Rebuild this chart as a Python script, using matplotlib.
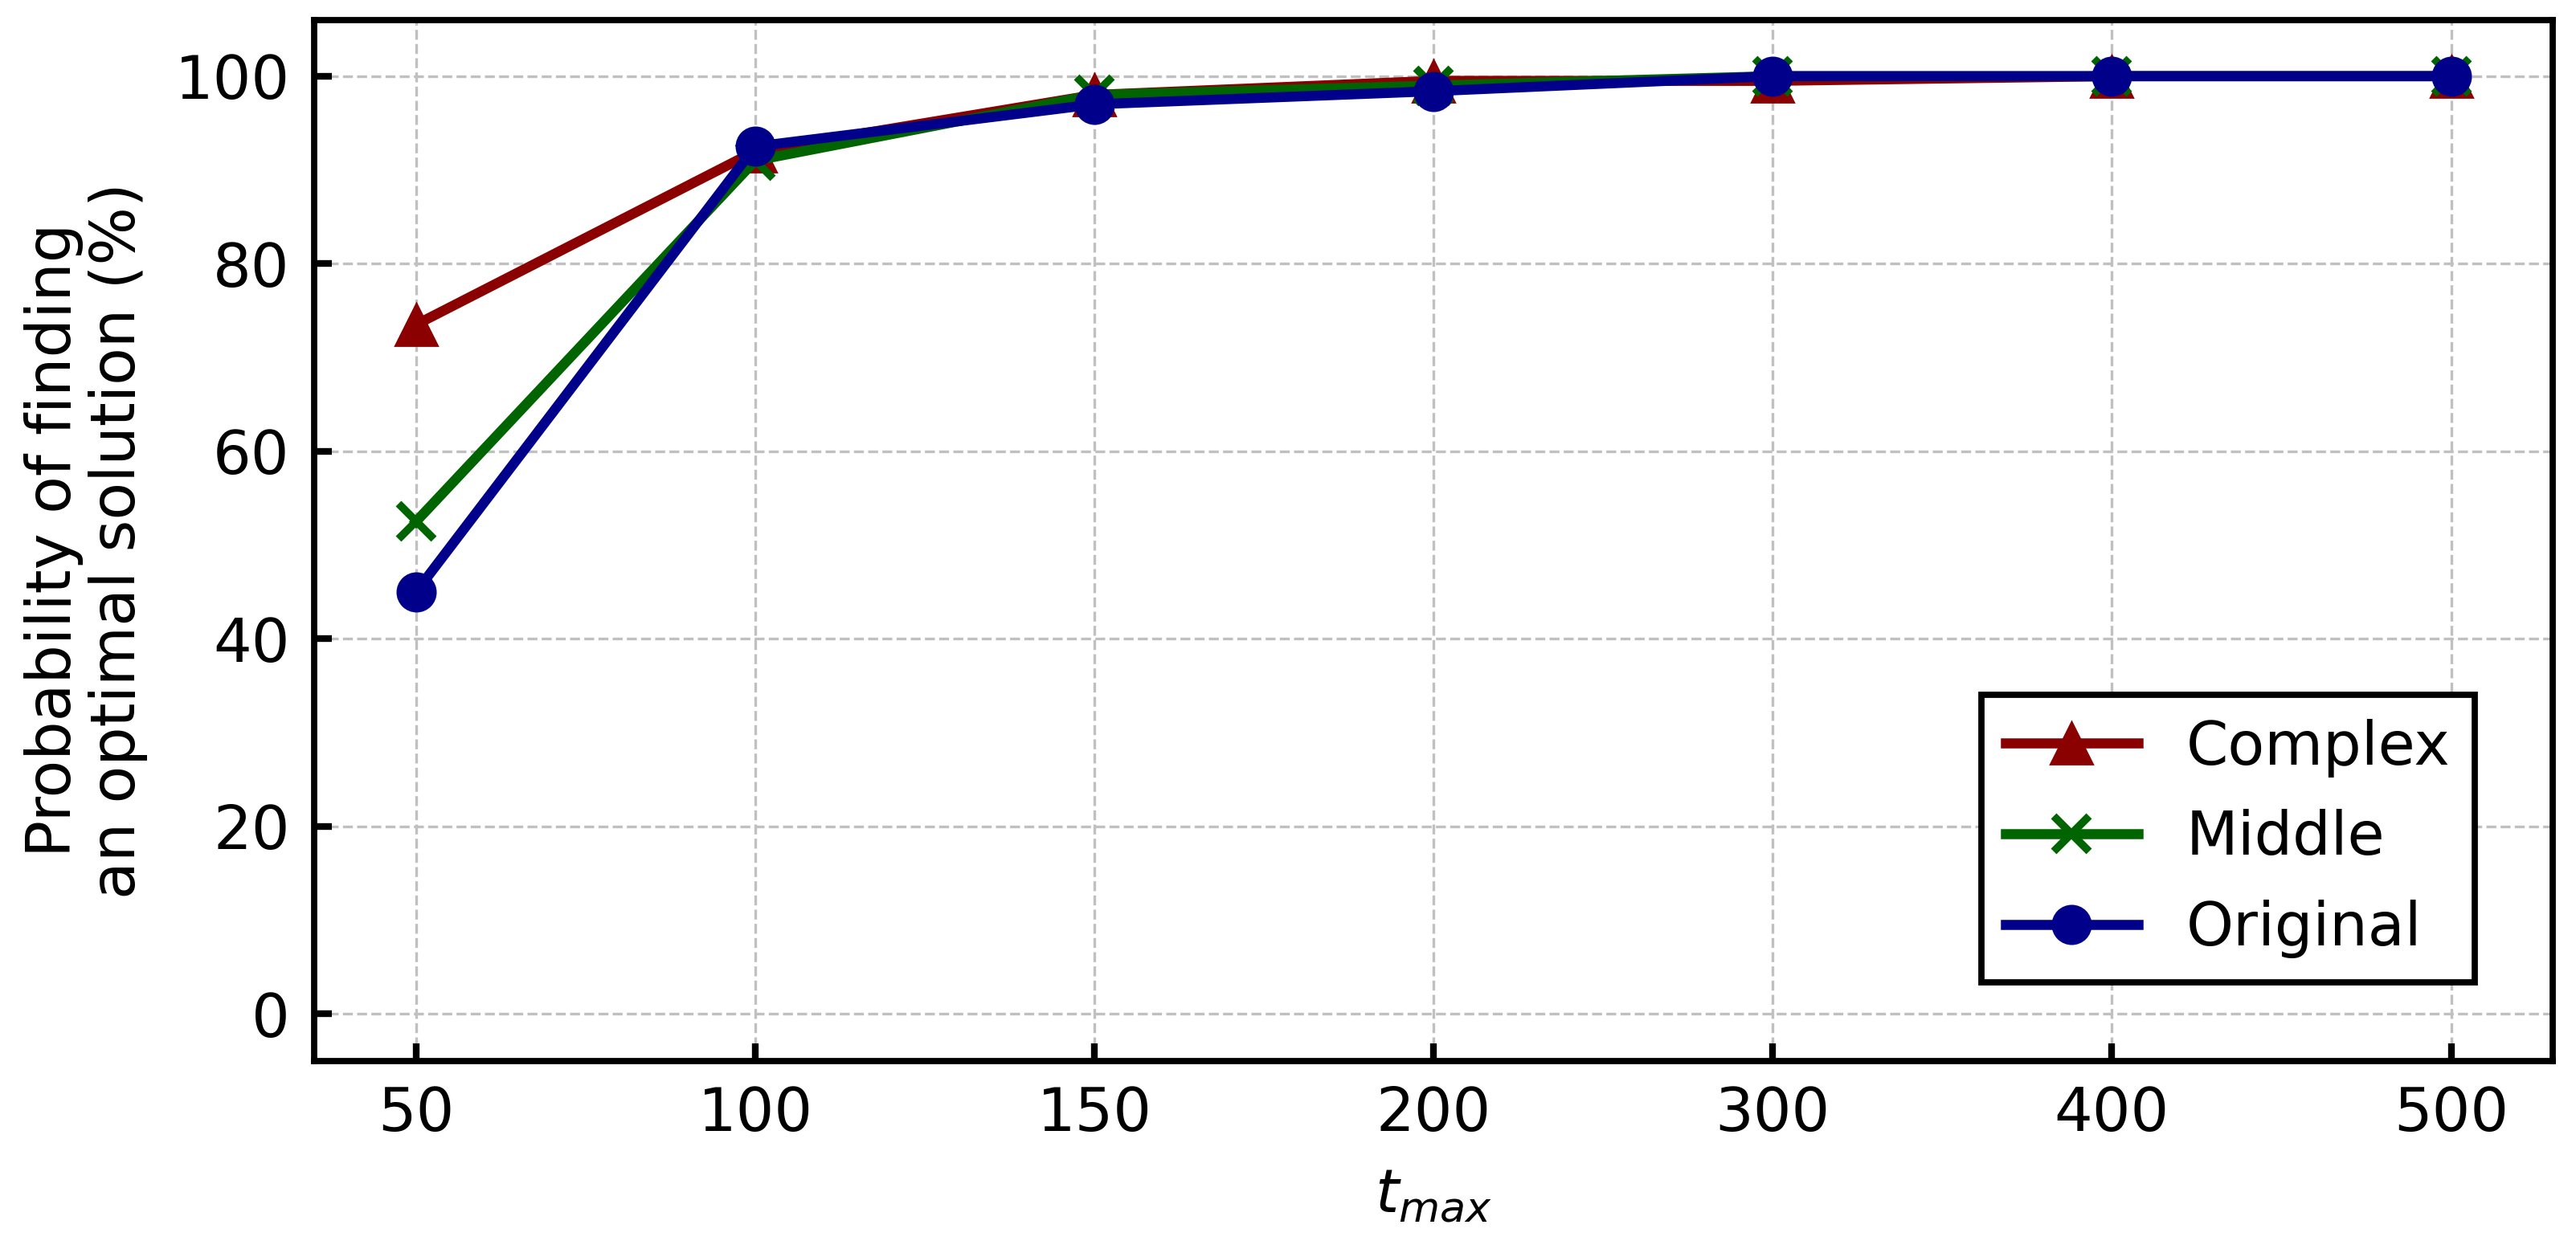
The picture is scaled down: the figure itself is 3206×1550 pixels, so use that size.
""" Probability of finding an optimal solution vs t_max """

import matplotlib
matplotlib.use("Agg")
import matplotlib.pyplot as plt, numpy as np

t_max = ["50", "100", "150", "200", "300", "400", "500"]
complex_p = [73.5, 92.0, 98.0, 99.5, 99.5, 100.0, 100.0]
middle_p = [52.5, 91.0, 98.0, 99.0, 100.0, 100.0, 100.0]
original_p = [45.0, 92.5, 97.0, 98.4, 100.0, 100.0, 100.0]

plt.rcParams['font.family'] = ['DejaVu Sans']

fig = plt.figure(figsize=(16.03, 7.75), dpi=200)
ax = fig.add_axes([0.122, 0.148, 0.869, 0.836])

x = np.arange(len(t_max))
ax.plot(x, complex_p, color='#8b0000', lw=4.5, marker='^', markersize=19, label='Complex', zorder=3)
ax.plot(x, middle_p, color='#006400', lw=4.5, marker='x', markersize=16, mew=3.5, label='Middle', zorder=4)
ax.plot(x, original_p, color='#00008b', lw=4.5, marker='o', markersize=17, label='Original', zorder=5)

ax.set_xlim(-0.3, 6.3)
ax.set_ylim(-5, 106)
ax.set_xticks(x)
ax.set_xticklabels(t_max)
ax.set_yticks([0, 20, 40, 60, 80, 100])

ax.grid(True, linestyle='--', color='#c0c0c0', lw=1.2)
ax.set_axisbelow(True)
for s in ax.spines.values():
	s.set_linewidth(2.8)

ax.tick_params(axis='both', direction='in', labelsize=27, length=8, width=3, pad=11)

ax.set_xlabel(r'$t_{max}$', fontsize=27, labelpad=10)
ax.set_ylabel('Probability of finding\nan optimal solution (%)', fontsize=27.5, labelpad=12,
	linespacing=1.1)

leg = ax.legend(loc='lower right', fontsize=27, fancybox=False, framealpha=1,
	edgecolor='black', borderaxespad=1.3, handlelength=2.2, labelspacing=0.53,
	borderpad=0.4, handletextpad=0.8)
leg.get_frame().set_linewidth(2.8)

plt.savefig('out.png', dpi=200)
